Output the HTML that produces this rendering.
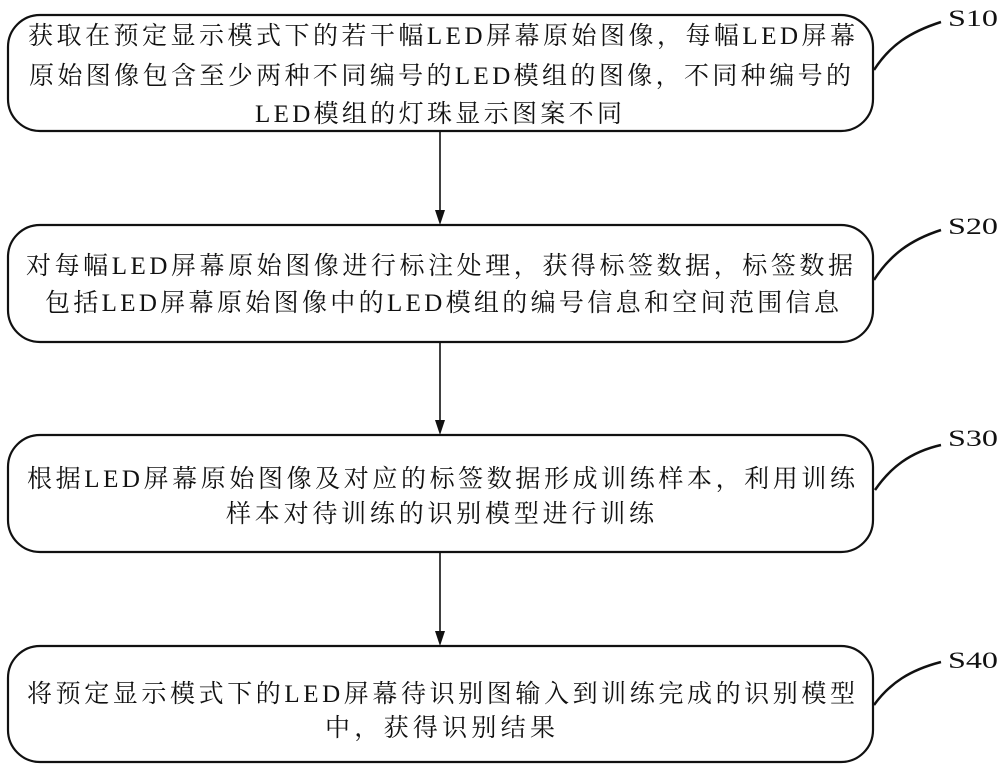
<!DOCTYPE html>
<html><head><meta charset="utf-8"><style>
html,body{margin:0;padding:0;background:#fff;}
svg{display:block;}
text{font-family:"Liberation Serif","Noto Serif CJK SC",serif;font-size:25px;fill:#111;}
.s{font-size:23px;}
</style></head><body>
<svg width="1000" height="771" viewBox="0 0 1000 771" xmlns="http://www.w3.org/2000/svg">
<g fill="none" stroke="#111" stroke-width="2.2">
<rect x="8" y="15" width="865" height="116" rx="32"/>
<rect x="8" y="225" width="865" height="117" rx="32"/>
<rect x="8" y="435" width="865" height="117" rx="32"/>
<rect x="8" y="646" width="865" height="116" rx="32"/>
</g>
<g stroke="#111" stroke-width="1.6">
<line x1="440" y1="131" x2="440" y2="212"/>
<line x1="440" y1="342" x2="440" y2="422"/>
<line x1="440" y1="552" x2="440" y2="633"/>
</g>
<g fill="#111">
<polygon points="435,210 445,210 440,225"/>
<polygon points="435,420 445,420 440,435"/>
<polygon points="435,631 445,631 440,646"/>
</g>
<g fill="none" stroke="#111" stroke-width="2.5">
<path d="M874,70 C890,45 910,32 941,22"/>
<path d="M874,280 C890,255 910,240 941,230"/>
<path d="M875,490 C890,468 910,452 941,445"/>
<path d="M874,705 C890,683 910,670 941,662"/>
</g>
<text class="s" x="948" y="26" textLength="50" lengthAdjust="spacingAndGlyphs">S10</text>
<text class="s" x="948" y="234" textLength="50" lengthAdjust="spacingAndGlyphs">S20</text>
<text class="s" x="948" y="446" textLength="50" lengthAdjust="spacingAndGlyphs">S30</text>
<text class="s" x="948" y="668" textLength="50" lengthAdjust="spacingAndGlyphs">S40</text>

<text x="28" y="44" textLength="827">获取在预定显示模式下的若干幅LED屏幕原始图像，每幅LED屏幕</text>
<text x="29" y="84" textLength="822">原始图像包含至少两种不同编号的LED模组的图像，不同种编号的</text>
<text x="255" y="122" textLength="367">LED模组的灯珠显示图案不同</text>

<text x="26" y="274" textLength="827">对每幅LED屏幕原始图像进行标注处理，获得标签数据，标签数据</text>
<text x="45" y="311" textLength="794">包括LED屏幕原始图像中的LED模组的编号信息和空间范围信息</text>

<text x="27" y="487" textLength="828">根据LED屏幕原始图像及对应的标签数据形成训练样本，利用训练</text>
<text x="226" y="522" textLength="428">样本对待训练的识别模型进行训练</text>

<text x="27" y="702" textLength="828">将预定显示模式下的LED屏幕待识别图输入到训练完成的识别模型</text>
<text x="325" y="736" textLength="230">中，获得识别结果</text>
</svg>
</body></html>
